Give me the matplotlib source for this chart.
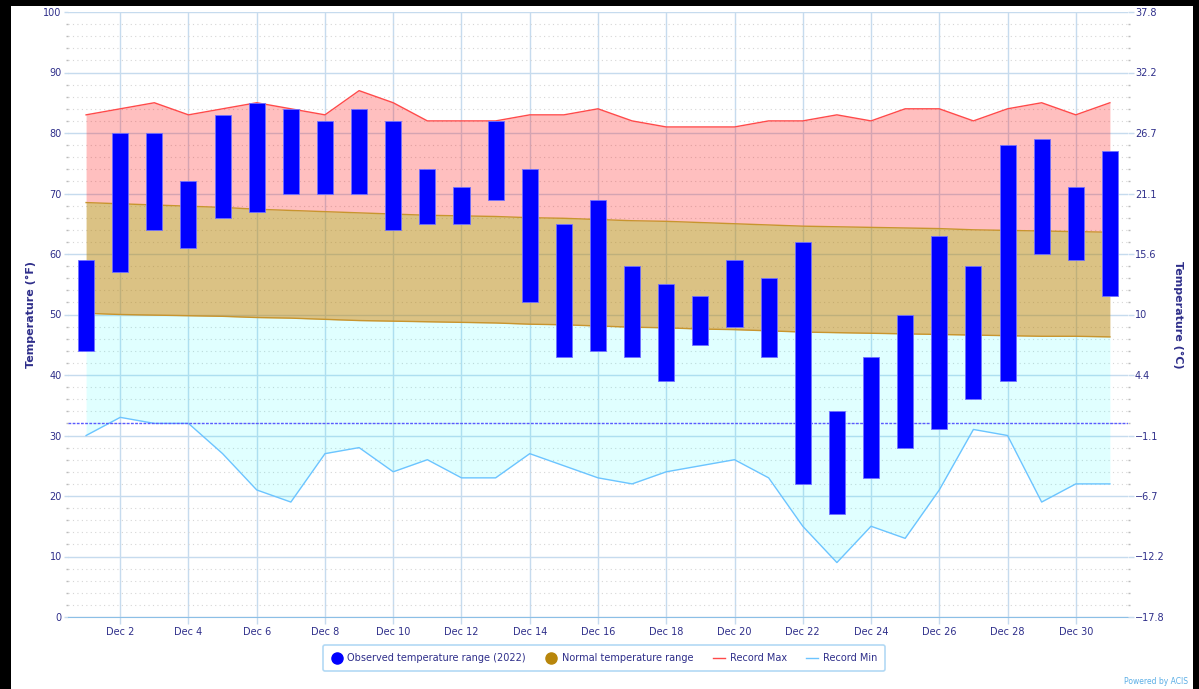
"""December 2022 daily temperature chart (observed vs normal vs record)."""

import numpy as np
import matplotlib
matplotlib.use("Agg")
import matplotlib.pyplot as plt
from matplotlib.lines import Line2D
from matplotlib.patches import Rectangle

plt.rcParams["font.family"] = ["DejaVu Sans"]

days = list(range(1, 32))
obs_low = [44, 57, 64, 61, 66, 67, 70, 70, 70, 64, 65, 65, 69, 52, 43, 44,
           43, 39, 45, 48, 43, 22, 17, 23, 28, 31, 36, 39, 60, 59, 53]
obs_high = [59, 80, 80, 72, 83, 85, 84, 82, 84, 82, 74, 71, 82, 74, 65, 69,
            58, 55, 53, 59, 56, 62, 34, 43, 50, 63, 58, 78, 79, 71, 77]
normal_high = [68.5, 68.3, 68.1, 67.9, 67.7, 67.4, 67.2, 67.0, 66.8, 66.6,
               66.4, 66.3, 66.2, 66.0, 65.9, 65.7, 65.5, 65.4, 65.2, 65.0,
               64.8, 64.6, 64.5, 64.4, 64.3, 64.2, 64.0, 63.9, 63.8, 63.7, 63.6]
normal_low = [50.2, 50.0, 49.9, 49.8, 49.7, 49.5, 49.4, 49.2, 49.0, 48.9,
              48.8, 48.7, 48.6, 48.4, 48.3, 48.1, 47.9, 47.8, 47.6, 47.5,
              47.3, 47.1, 47.0, 46.9, 46.8, 46.7, 46.6, 46.5, 46.4, 46.4, 46.3]
record_max = [83, 84, 85, 83, 84, 85, 84, 83, 87, 85, 82, 82, 82, 83, 83, 84,
              82, 81, 81, 81, 82, 82, 83, 82, 84, 84, 82, 84, 85, 83, 85]
record_min = [30, 33, 32, 32, 27, 21, 19, 27, 28, 24, 26, 23, 23, 27, 25, 23,
              22, 24, 25, 26, 23, 15, 9, 15, 13, 21, 31, 30, 19, 22, 22]
freezing = 32
x_ticks = list(range(2, 31, 2))
x_labels = [f"Dec {d}" for d in x_ticks]
f_ticks = list(range(0, 101, 10))

NAVY = "#2e2e8a"
GRID = "#c6dbee"

fig = plt.figure(figsize=(11.99, 6.89), dpi=100, facecolor="black")
fig.patches.append(Rectangle((11 / 1199, 0), 1182 / 1199, 683 / 689,
                             transform=fig.transFigure, facecolor="white",
                             edgecolor="none", zorder=-10))
ax = fig.add_axes([68 / 1199, 72 / 689, 1060 / 1199, 605 / 689])
ax.set_facecolor("none")
d = np.array(days)

# semi-transparent bands so the grid shows through, as in the original
ax.fill_between(d, normal_high, record_max, color="#ff0000", alpha=0.25, lw=0, zorder=1)
ax.fill_between(d, normal_low, normal_high, color="#b8860b", alpha=0.5, lw=0, zorder=1)
ax.fill_between(d, record_min, normal_low, color="#00ffff", alpha=0.12, lw=0, zorder=1)
ax.plot(d, normal_high, color="#c8952e", lw=1, zorder=2)
ax.plot(d, normal_low, color="#c8952e", lw=1, zorder=2)
ax.plot(d, record_max, color="#ff4a4a", lw=1, zorder=2)
ax.plot(d, record_min, color="#6cc4ff", lw=1, zorder=2)
ax.axhline(freezing, color="#5a5aff", lw=1, ls=(0, (2, 1)), zorder=2)

lo = np.array(obs_low)
hi = np.array(obs_high)
ax.bar(d, hi - lo, bottom=lo, width=0.47, color="#0000ff",
       edgecolor="#7070ff", lw=0.6, zorder=3)

ax.set_xlim(0.47, 31.53)
ax.set_ylim(0, 100)
ax.set_xticks(x_ticks)
ax.set_xticklabels(x_labels)
ax.set_yticks(f_ticks)
ax.set_yticks(np.arange(0, 101, 2), minor=True)
ax.set_axisbelow(True)
ax.grid(True, which="major", color=GRID, lw=1)
ax.grid(True, which="minor", axis="y", color="#d6d6d6", lw=0.8, ls=(0, (1, 3)))
ax.tick_params(axis="x", which="major", colors=GRID, labelcolor=NAVY,
               labelsize=7, length=5, width=1, pad=2.5)
ax.tick_params(axis="y", which="major", colors=GRID, labelcolor=NAVY,
               labelsize=7, length=3, width=1, pad=1.5)
ax.tick_params(axis="y", which="minor", colors="#bbbbbb", length=1.5, width=1)
for s in ["top", "left", "right"]:
    ax.spines[s].set_visible(False)
ax.spines["bottom"].set_color("#8cbfe6")
ax.set_ylabel("Temperature (°F)", color=NAVY, fontsize=8, fontweight="bold",
              labelpad=5)

ax2 = ax.twinx()
ax2.set_ylim(0, 100)
ax2.set_yticks(f_ticks)
c_labels = []
for f in f_ticks:
    c = f"{(f - 32) * 5 / 9:.1f}".replace("-", "\u2212")
    c_labels.append(c[:-2] if c.endswith(".0") else c)
ax2.set_yticklabels(c_labels)
ax2.set_yticks(np.arange(0, 101, 2), minor=True)
ax2.tick_params(axis="y", which="major", colors=GRID, labelcolor=NAVY,
                labelsize=7, length=4, width=1, pad=1)
ax2.tick_params(axis="y", which="minor", colors="#bbbbbb", length=1.5, width=1)
for s in ax2.spines.values():
    s.set_visible(False)
ax2.set_ylabel("Temperature (°C)", color=NAVY, fontsize=8, fontweight="bold",
               rotation=270, labelpad=13)

handles = [
    Line2D([], [], ls="none", marker="o", ms=8, color="#0000ff"),
    Line2D([], [], ls="none", marker="o", ms=8, color="#b8860b"),
    Line2D([], [], color="#ff4a4a", lw=1),
    Line2D([], [], color="#6cc4ff", lw=1),
]
names = ["Observed temperature range (2022)", "Normal temperature range",
         "Record Max", "Record Min"]
leg = fig.legend(handles, names, loc="center", bbox_to_anchor=(604 / 1199, 31 / 689),
                 ncol=4, fontsize=7, frameon=True, fancybox=True,
                 handlelength=1.2, handletextpad=0.5, columnspacing=2.0,
                 borderpad=0.8)
leg.get_frame().set_edgecolor("#9fd0f2")
leg.get_frame().set_linewidth(1.2)
for t in leg.get_texts():
    t.set_color(NAVY)

fig.text(1188 / 1199, 7 / 689, "Powered by ACIS", ha="right", va="center",
         fontsize=5.5, color="#5aaee6")

fig.savefig("out.png", dpi=100, facecolor="black")
plt.close(fig)
